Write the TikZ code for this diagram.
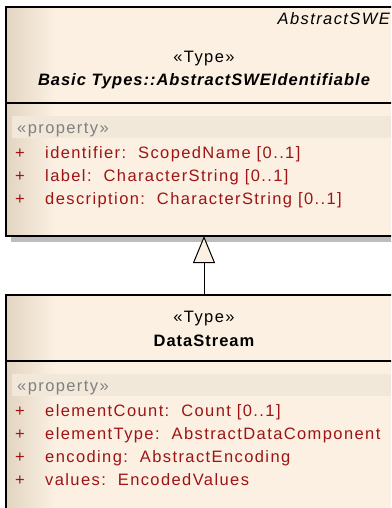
\documentclass[tikz,border=0pt]{standalone}
\usepackage{fontspec}
\setmainfont{Liberation Sans}
\newfontfamily\umlfont[LetterSpace=8.5]{Liberation Sans}
\newfontfamily\umlboldfont[LetterSpace=6]{Liberation Sans}
\usetikzlibrary{arrows.meta}
\definecolor{boxlight}{HTML}{FBF0E2}
\definecolor{boxdark}{HTML}{E2D5C2}
\definecolor{bandc}{HTML}{F2E8DA}
\definecolor{attrc}{HTML}{9E1414}
\definecolor{stereoc}{HTML}{808080}
\definecolor{shadowc}{HTML}{BDBDBD}
\tikzset{
  boxline/.style={draw=black, line width=1.4pt},
  umltext/.style={inner sep=0pt, font=\umlfont\fontsize{16.5}{18}\selectfont},
  attr/.style={umltext, anchor=base west, text=attrc},
  stereo/.style={umltext, anchor=base west, text=stereoc},
  hdr/.style={umltext, anchor=base},
}
\begin{document}
\begin{tikzpicture}[x=1pt,y=-1pt]
\useasboundingbox (0,0) rectangle (391,508);
\clip (0,0) rectangle (391,508);
\fill[white] (0,0) rectangle (391,508);
% ---------- top box ----------
\fill[shadowc] (11,236) rectangle (400,242);
\fill[boxlight] (6,7) rectangle (400,236);
\shade[left color=boxdark, right color=boxlight] (7,8) rectangle (55,235);
\fill[bandc] (12,116) rectangle (400,138);
\draw[boxline] (6,7) rectangle (400,236);
\draw[boxline] (6,103) -- (400,103);
\node[umltext, anchor=base east, font=\umlfont\itshape\fontsize{16.5}{18}\selectfont] (absname) at (390,25) {AbstractSWE};
\node[hdr] (t1) at (204,63) {«Type»};
\node[hdr, font=\umlboldfont\bfseries\itshape\fontsize{16.5}{18}\selectfont] (t2) at (204,86) {Basic Types::AbstractSWEIdentifiable};
\node[stereo] (p1) at (17,133) {«property»};
\node[attr] (s1) at (15,158) {+};
\node[attr] (a1) at (45,158) {identifier:\ \ ScopedName [0..1]};
\node[attr] (s2) at (15,181) {+};
\node[attr] (a2) at (45,181) {label:\ \ CharacterString [0..1]};
\node[attr] (s3) at (15,204) {+};
\node[attr] (a3) at (45,204) {description:\ \ CharacterString [0..1]};
\coordinate (topb) at (204,236);
% ---------- bottom box ----------
\fill[boxlight] (6,295) rectangle (400,520);
\shade[left color=boxdark, right color=boxlight] (7,296) rectangle (55,520);
\fill[bandc] (12,374) rectangle (400,396);
\draw[boxline] (6,520) -- (6,295) -- (400,295);
\draw[boxline] (6,361) -- (400,361);
\node[hdr] (b1) at (204,322) {«Type»};
\node[hdr, font=\umlboldfont\bfseries\fontsize{16.5}{18}\selectfont] (b2) at (204,346) {DataStream};
\node[stereo] (p2) at (17,391) {«property»};
\node[attr] (s4) at (15,416) {+};
\node[attr] (c1) at (45,416) {elementCount:\ \ Count [0..1]};
\node[attr] (s5) at (15,439) {+};
\node[attr] (c2) at (45,439) {elementType:\ \ AbstractDataComponent};
\node[attr] (s6) at (15,462) {+};
\node[attr] (c3) at (45,462) {encoding:\ \ AbstractEncoding};
\node[attr] (s7) at (15,485) {+};
\node[attr] (c4) at (45,485) {values:\ \ EncodedValues};
\coordinate (botb) at (204,295);
% ---------- generalization ----------
\draw[line width=1pt, -{Triangle[open, width=22pt, length=27pt, fill=boxlight]}] (botb) -- (topb);
\end{tikzpicture}
\end{document}
